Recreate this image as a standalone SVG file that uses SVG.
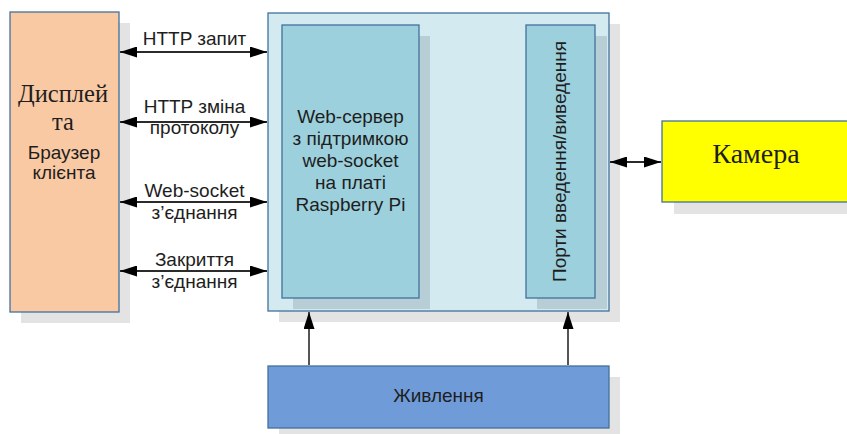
<svg xmlns="http://www.w3.org/2000/svg" width="847" height="434" viewBox="0 0 847 434">
  <style>
    .shadow { fill: #e3e3e3; }
    .ishadow { fill: #b8ced6; }
    .box { stroke: #41719c; stroke-width: 1.3; }
    .sans { font-family: "Liberation Sans", Arial, sans-serif; font-size: 19px; fill: #1e1e1e; text-anchor: middle; }
    .serif { font-family: "Liberation Serif", "Times New Roman", serif; fill: #1e1e1e; text-anchor: middle; }
    .link { stroke: #2b2b2b; stroke-width: 2; fill: none; }
    .feed { stroke: #555; stroke-width: 2; fill: none; }
  </style>
  <defs>
    <marker id="head" viewBox="0 0 17 11" refX="17" refY="5.5" markerWidth="17" markerHeight="11" markerUnits="userSpaceOnUse" orient="auto-start-reverse">
      <path d="M0,0 L17,5.5 L0,11 Z" fill="#000"/>
    </marker>
  </defs>

  <rect width="847" height="434" fill="#fff"/>

  <!-- client display / browser -->
  <g id="client">
    <rect class="shadow" x="21" y="23" width="109" height="300"/>
    <rect class="box" x="10" y="12" width="109" height="300" fill="#f9c9a3"/>
    <text class="serif" x="63" y="102" font-size="24.5">Дисплей</text>
    <text class="serif" x="63" y="130" font-size="24.5">та</text>
    <text class="sans" x="64" y="159">Браузер</text>
    <text class="sans" x="64" y="179">клієнта</text>
  </g>

  <!-- Raspberry Pi board -->
  <g id="board">
    <rect class="shadow" x="279" y="24" width="341" height="298"/>
    <rect class="box" x="268" y="13" width="341" height="298" fill="#d3eaf0"/>
  </g>

  <g id="webserver">
    <rect class="ishadow" x="293" y="36" width="137" height="273"/>
    <rect class="box" x="282" y="25" width="137" height="273" fill="#9dd0dd"/>
    <text class="sans" x="350.5" y="123">Web-сервер</text>
    <text class="sans" x="350.5" y="145">з підтримкою</text>
    <text class="sans" x="350.5" y="167">web-socket</text>
    <text class="sans" x="350.5" y="189">на платі</text>
    <text class="sans" x="350.5" y="211">Raspberry Pi</text>
  </g>

  <g id="ports">
    <rect class="ishadow" x="537" y="36" width="70" height="273"/>
    <rect class="box" x="526" y="25" width="69" height="273" fill="#9dd0dd"/>
    <text class="sans" transform="translate(566,161.5) rotate(-90)" x="0" y="0">Порти введення/виведення</text>
  </g>

  <!-- camera -->
  <g id="camera">
    <rect class="shadow" x="674" y="133" width="190" height="81"/>
    <rect class="box" x="662" y="121" width="190" height="81" fill="#ffff00"/>
    <text class="serif" x="756" y="163" font-size="28">Камера</text>
  </g>

  <!-- power supply -->
  <g id="power">
    <rect class="shadow" x="279" y="377" width="341" height="62"/>
    <rect class="box" x="268" y="366" width="341" height="62" fill="#6f9cd9"/>
    <text class="sans" x="438.5" y="402">Живлення</text>
  </g>

  <!-- connectors -->
  <g id="connectors">
    <line class="link" x1="120" y1="52" x2="267" y2="52" marker-start="url(#head)" marker-end="url(#head)"/>
    <line class="link" x1="120" y1="122" x2="267" y2="122" marker-start="url(#head)" marker-end="url(#head)"/>
    <line class="link" x1="120" y1="202" x2="267" y2="202" marker-start="url(#head)" marker-end="url(#head)"/>
    <line class="link" x1="120" y1="271" x2="267" y2="271" marker-start="url(#head)" marker-end="url(#head)"/>
    <line class="link" x1="610" y1="162" x2="661" y2="162" marker-start="url(#head)" marker-end="url(#head)"/>
    <line class="feed" x1="309" y1="365" x2="309" y2="312" marker-end="url(#head)"/>
    <line class="feed" x1="568" y1="365" x2="568" y2="312" marker-end="url(#head)"/>
  </g>

  <!-- connector labels -->
  <g id="labels">
    <text class="sans" x="194.5" y="45">HTTP запит</text>
    <text class="sans" x="194.5" y="113">HTTP зміна</text>
    <text class="sans" x="194.5" y="134">протоколу</text>
    <text class="sans" x="194.5" y="197">Web-socket</text>
    <text class="sans" x="194.5" y="219">з’єднання</text>
    <text class="sans" x="194.5" y="266">Закриття</text>
    <text class="sans" x="194.5" y="288">з’єднання</text>
  </g>
</svg>
